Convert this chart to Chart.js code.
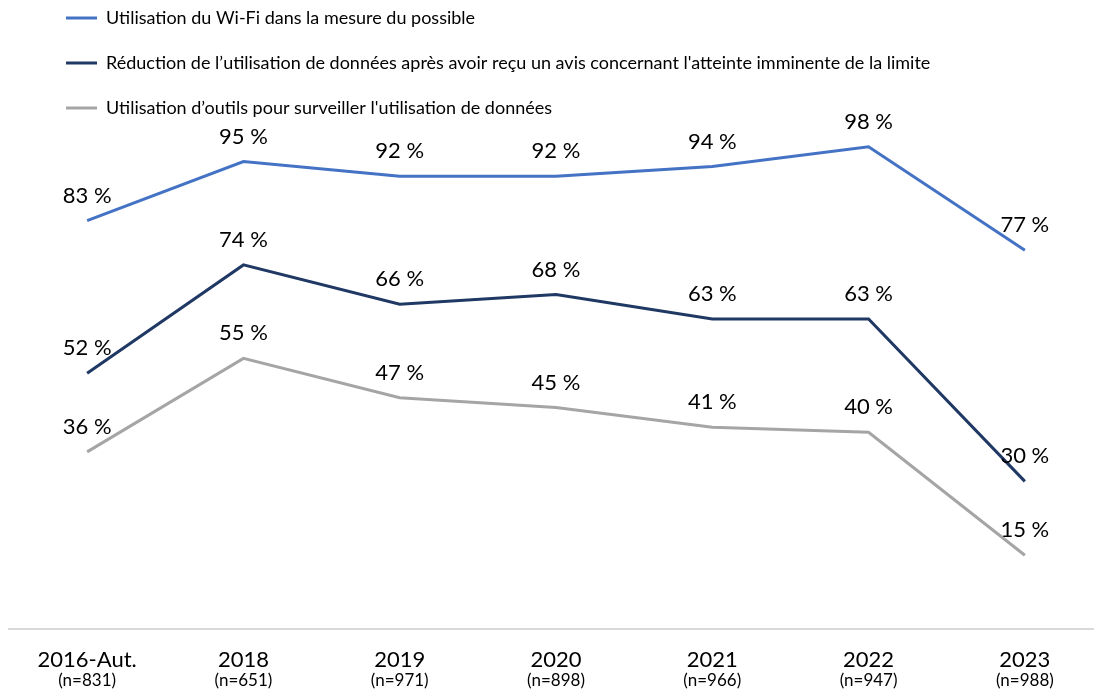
<!DOCTYPE html>
<html lang="fr">
<head>
  <meta charset="UTF-8">
  <title>Gestion de l'utilisation des données</title>
  <script src="https://cdn.jsdelivr.net/npm/chart.js@4.4.3/dist/chart.umd.min.js"></script>
  <style>
    html, body { margin: 0; padding: 0; background: #fff; overflow: hidden; }
    .wrap { width: 1103px; height: 692px; position: relative; }
  </style>
</head>
<body>
  <div class="wrap"><canvas id="usageChart"></canvas></div>

  <script>
    const years = ['2016-Aut.', '2018', '2019', '2020', '2021', '2022', '2023'];
    const sampleSizes = ['(n=831)', '(n=651)', '(n=971)', '(n=898)', '(n=966)', '(n=947)', '(n=988)'];
    const wifi = [83, 95, 92, 92, 94, 98, 77];
    const reduction = [52, 74, 66, 68, 63, 63, 30];
    const tools = [36, 55, 47, 45, 41, 40, 15];

    const FONT = 'Lato, "Open Sans", sans-serif';

    // value labels above each point
    const valueLabels = {
      id: 'valueLabels',
      afterDatasetsDraw(chart) {
        const ctx = chart.ctx;
        ctx.save();
        ctx.font = '22px ' + FONT;
        ctx.fillStyle = '#000';
        ctx.textAlign = 'center';
        ctx.textBaseline = 'middle';
        chart.data.datasets.forEach((ds, i) => {
          chart.getDatasetMeta(i).data.forEach((pt, j) => {
            ctx.fillText(ds.data[j] + ' %', pt.x, pt.y - 25);
          });
        });
        ctx.restore();
      }
    };

    // nudge the legend block to the right and up
    const legendShift = {
      id: 'legendShift',
      afterLayout(chart) {
        chart.legend.left += 30;
        chart.legend.top -= 18;
      }
    };

    new Chart(document.getElementById('usageChart'), {
      type: 'line',
      data: {
        labels: years,
        datasets: [
          { label: 'Utilisation du Wi-Fi dans la mesure du possible', data: wifi, borderColor: '#4472C4' },
          { label: 'Réduction de l’utilisation de données après avoir reçu un avis concernant l\'atteinte imminente de la limite', data: reduction, borderColor: '#203864' },
          { label: 'Utilisation d’outils pour surveiller l\'utilisation de données', data: tools, borderColor: '#A5A5A5' }
        ].map(d => Object.assign(d, { borderWidth: 3, pointRadius: 0, tension: 0, clip: false, fill: false }))
      },
      options: {
        responsive: true,
        maintainAspectRatio: false,
        animation: false,
        layout: { padding: { left: 9, right: 0, top: 0, bottom: 1 } },
        plugins: {
          tooltip: { enabled: false },
          legend: {
            position: 'top',
            align: 'start',
            maxHeight: 137,
            labels: {
              font: { family: FONT, size: 18 },
              color: '#000',
              boxWidth: 31,
              boxHeight: 3,
              padding: 27,
              generateLabels: chart => chart.data.datasets.map((d, i) => ({
                text: d.label, fillStyle: d.borderColor, strokeStyle: d.borderColor,
                lineWidth: 0, datasetIndex: i, hidden: false, fontColor: '#000'
              }))
            }
          }
        },
        scales: {
          y: { display: false, min: 0, max: 100 },
          x: {
            weight: 0,
            offset: true,
            grid: { display: false, drawTicks: false },
            border: { display: true, color: '#D9D9D9', width: 2 },
            ticks: { font: { family: FONT, size: 22 }, color: '#000', padding: 18, maxRotation: 0, autoSkip: false },
            afterFit(scale) { scale.height = 41; }
          },
          x2: {
            type: 'category',
            position: 'bottom',
            weight: 1,
            labels: sampleSizes,
            offset: true,
            grid: { display: false, drawTicks: false },
            border: { display: false },
            ticks: { font: { family: FONT, size: 17 }, color: '#000', padding: 0, maxRotation: 0, autoSkip: false },
            afterFit(scale) { scale.height = 21; }
          }
        }
      },
      plugins: [valueLabels, legendShift]
    });
  </script>
</body>
</html>
